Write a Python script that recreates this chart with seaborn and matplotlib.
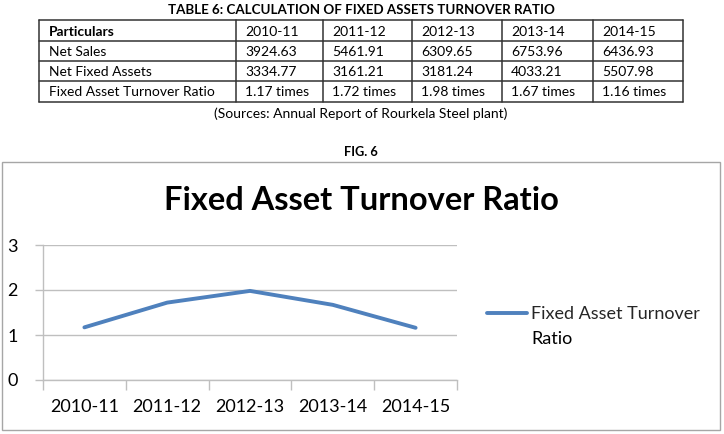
import matplotlib
matplotlib.use("Agg")
import matplotlib.pyplot as plt
import seaborn as sns
import pandas as pd
from matplotlib.lines import Line2D
from matplotlib.patches import Rectangle

# ---- data ----
years = ["2010-11", "2011-12", "2012-13", "2013-14", "2014-15"]
net_sales = ["3924.63", "5461.91", "6309.65", "6753.96", "6436.93"]
net_fixed_assets = ["3334.77", "3161.21", "3181.24", "4033.21", "5507.98"]
ratio_text = ["1.17 times", "1.72 times", "1.98 times", "1.67 times", "1.16 times"]
ratio = [1.17, 1.72, 1.98, 1.67, 1.16]
row_labels = ["Particulars", "Net Sales", "Net Fixed Assets", "Fixed Asset Turnover Ratio"]
series_name = "Fixed Asset Turnover Ratio"
yticks = [0, 1, 2, 3]

sns.set_theme(style="white")
plt.rcParams["font.family"] = ["Lato", "DejaVu Sans"]

W, H = 724, 434
fig = plt.figure(figsize=(W / 100, H / 100), dpi=100)

def fx(x):
    return x / W

def fy(y):
    return 1 - y / H

# ---- table ----
fig.text(fx(361), fy(10), "TABLE 6: CALCULATION OF FIXED ASSETS TURNOVER RATIO",
         ha="center", va="center", fontsize=9.6, fontweight="bold", color="black")

col_edges = [39, 236, 323, 412, 502, 593, 683]
row_edges = [20, 41, 61, 81, 102]
lc = "#333333"
for x in col_edges:
    fig.add_artist(Line2D([fx(x), fx(x)], [fy(row_edges[0]), fy(row_edges[-1])],
                          color=lc, lw=1.1))
for y in row_edges:
    fig.add_artist(Line2D([fx(col_edges[0]), fx(col_edges[-1])], [fy(y), fy(y)],
                          color=lc, lw=1.1))

rows = [years, net_sales, net_fixed_assets, ratio_text]
for r, (lab, vals) in enumerate(zip(row_labels, rows)):
    yc = (row_edges[r] + row_edges[r + 1]) / 2 + 1
    fig.text(fx(col_edges[0] + 10), fy(yc), lab, ha="left", va="center",
             fontsize=10, fontweight="bold" if r == 0 else "normal", color="black")
    for c, v in enumerate(vals):
        fig.text(fx(col_edges[c + 1] + 9), fy(yc), v, ha="left", va="center",
                 fontsize=10, color="black")

fig.text(fx(361), fy(114), "(Sources: Annual Report of Rourkela Steel plant)",
         ha="center", va="center", fontsize=10, color="black")

fig.text(fx(361), fy(152), "FIG. 6", ha="center", va="center",
         fontsize=9.2, fontweight="bold", color="black")

# ---- chart frame ----
fig.add_artist(Rectangle((fx(2), fy(430)), fx(718), (430 - 162) / H,
                         transform=fig.transFigure, fill=False,
                         edgecolor="#A6A6A6", lw=1.0))

fig.text(fx(361), fy(200), "Fixed Asset Turnover Ratio", ha="center", va="center",
         fontsize=23.5, fontweight="bold", color="black")

ax = fig.add_axes([fx(43), fy(380), 414 / W, 135 / H])
df = pd.DataFrame({"Year": years, "Ratio": ratio})
sns.lineplot(data=df, x="Year", y="Ratio", ax=ax, color="#4F81BD", lw=2.8,
             sort=False, label=series_name)

ax.set_xlim(-0.5, len(years) - 0.5)
ax.set_ylim(0, 3)
ax.set_yticks(yticks)
ax.set_xlabel("")
ax.set_ylabel("")
ax.grid(axis="y", color="#BFBFBF", lw=1.0)
ax.grid(axis="x", visible=False)
for s in ["top", "right"]:
    ax.spines[s].set_visible(False)
for s in ["left", "bottom"]:
    ax.spines[s].set_visible(True)
    ax.spines[s].set_color("#BFBFBF")
    ax.spines[s].set_linewidth(1.0)
ax.set_xticks([i - 0.5 for i in range(len(years) + 1)], minor=True)
ax.tick_params(axis="x", which="major", length=0, labelsize=13, pad=14, colors="black")
ax.tick_params(axis="x", which="minor", length=7, width=1, color="#BFBFBF", bottom=True)
ax.tick_params(axis="y", which="major", length=6, width=1, color="#BFBFBF",
               labelsize=13, pad=12, left=True, labelcolor="black")

leg = ax.legend(loc="center left", bbox_to_anchor=(fx(487), fy(314)),
                bbox_transform=fig.transFigure, frameon=False, fontsize=13,
                handlelength=2.2, handletextpad=0.22, borderaxespad=0, borderpad=0)
words = series_name.split(" ")
leg.get_texts()[0].set_text(" ".join(words[:-1]))
fig.text(fx(531), fy(339), words[-1], ha="left", va="center", fontsize=13, color="black")

fig.savefig("out.png", dpi=100)
